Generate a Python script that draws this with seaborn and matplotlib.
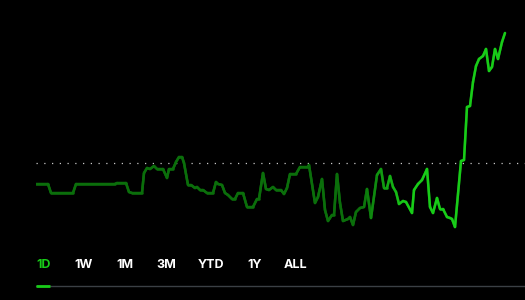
import numpy as np
import pandas as pd
import matplotlib
matplotlib.use("Agg")
import matplotlib.pyplot as plt
from matplotlib.colors import LinearSegmentedColormap
from matplotlib.collections import LineCollection
from matplotlib.lines import Line2D
import seaborn as sns

# ---- data (minutes since open, price-like level) ----
minutes = [0, 12, 15, 37, 40, 79, 81, 90, 93, 96, 106, 108, 111, 114, 118, 121, 127, 131,
           133, 137, 140, 143, 146, 148, 152, 155, 159, 161, 164, 167, 171, 177, 180, 182,
           186, 189, 192, 196, 199, 202, 207, 211, 217, 221, 223, 227, 230, 233, 237, 240,
           245, 248, 251, 254, 260, 264, 272, 273, 279, 282, 286, 289, 292, 296, 298, 301,
           304, 307, 312, 314, 317, 320, 324, 328, 331, 335, 341, 345, 348, 351, 354, 357,
           360, 363, 367, 370, 376, 378, 382, 386, 391, 394, 397, 401, 404, 407, 411, 414,
           416, 419, 425, 428, 431, 434, 437, 440, 443, 447, 450, 453, 456, 459, 462, 466,
           469]
price = [116, 116, 107, 107, 116, 116, 117, 117, 108, 107, 107, 127, 132, 131, 134, 131,
         131, 122, 131, 131, 138, 143, 143, 137, 115, 115, 112, 113, 110, 110, 107, 107,
         118, 116, 115, 107, 105, 101, 101, 107, 107, 93, 93, 101, 101, 127, 111, 110,
         113, 110, 110, 106, 112, 126, 126, 133, 133, 135, 97, 103, 121, 90, 79, 85, 85,
         126, 97, 79, 81, 83, 75, 88, 92, 93, 111, 82, 125, 131, 112, 112, 124, 113, 108,
         96, 99, 98, 87, 110, 116, 120, 131, 93, 87, 102, 91, 91, 83, 82, 81, 73, 139,
         140, 193, 194, 218, 234, 241, 244, 251, 229, 233, 251, 241, 258, 267]
prev_close = 137
tabs = ["1D", "1W", "1M", "3M", "YTD", "1Y", "ALL"]
tab_x_px = [43.5, 83.5, 125, 166.5, 211.5, 254.5, 295.5]

# ---- style ----
sns.set_theme(style="dark")
plt.rcParams["font.family"] = ["Inter", "DejaVu Sans"]
BG = "#000000"
DARK = "#0b6e0b"
BRIGHT = "#18cc18"

fig = plt.figure(figsize=(5.25, 3.0), dpi=100, facecolor=BG)
ax = fig.add_axes([36 / 525, 0.2, 1 - 36 / 525, 0.8])
ax.set_facecolor(BG)

df = pd.DataFrame({"t": minutes, "p": price})
sns.lineplot(data=df, x="t", y="p", color=DARK, linewidth=1.8, sort=False,
             estimator=None, ax=ax)

# colour gradient from dark to bright green along time
cmap = LinearSegmentedColormap.from_list("g", [DARK, BRIGHT])
t_arr = np.asarray(minutes, dtype=float)
p_arr = np.asarray(price, dtype=float)
pts = np.column_stack([t_arr, p_arr]).reshape(-1, 1, 2)
segs = np.concatenate([pts[:-1], pts[1:]], axis=1)
mids = 0.5 * (t_arr[:-1] + t_arr[1:])
frac = np.clip((mids - 325) / 45.0, 0, 1)
lc = LineCollection(segs, colors=cmap(frac), linewidths=1.8, capstyle="round",
                    joinstyle="round", zorder=3)
ax.add_collection(lc)

ax.axhline(prev_close, color="#c8c8c8", linewidth=0.9, linestyle=(0, (1, 5.2)), zorder=0)

ax.set_xlim(0, 489)
ax.set_ylim(60, 300)
ax.set_xlabel("")
ax.set_ylabel("")
ax.set_xticks([])
ax.set_yticks([])
for s in ax.spines.values():
    s.set_visible(False)
ax.grid(False)

# range tabs
for lab, xp in zip(tabs, tab_x_px):
    fig.text(xp / 525, 1 - 265 / 300, lab, ha="center", va="center",
             fontsize=9, fontweight="bold",
             color=BRIGHT if lab == "1D" else "#ffffff")

fig.add_artist(Line2D([36 / 525, 1.0], [1 - 286 / 300] * 2, transform=fig.transFigure,
                      color="#3b4045", linewidth=1.0))
fig.add_artist(Line2D([36 / 525, 50 / 525], [1 - 285.5 / 300] * 2, transform=fig.transFigure,
                      color=BRIGHT, linewidth=2.0, solid_capstyle="butt"))

fig.savefig("out.png", dpi=100, facecolor=BG)
